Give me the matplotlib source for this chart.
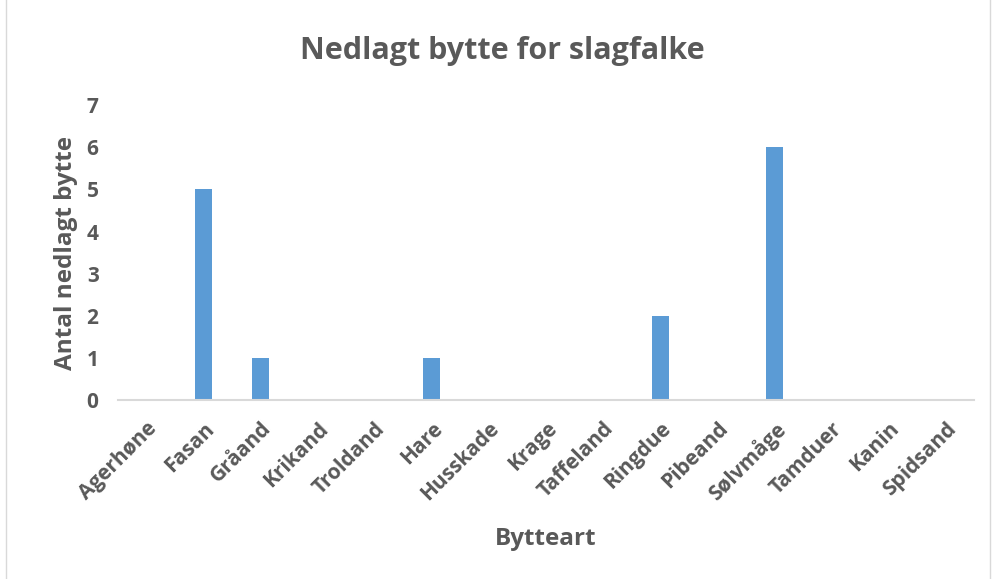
import numpy as np
import matplotlib.pyplot as plt
from matplotlib.patches import Rectangle

arter = ['Agerhøne', 'Fasan', 'Gråand', 'Krikand', 'Troldand', 'Hare', 'Husskade',
         'Krage', 'Taffeland', 'Ringdue', 'Pibeand', 'Sølvmåge', 'Tamduer', 'Kanin', 'Spidsand']
antal = [0, 5, 1, 0, 0, 1, 0, 0, 0, 2, 0, 6, 0, 0, 0]

plt.rcParams['font.family'] = ['Open Sans', 'DejaVu Sans']
tekst = '#595959'

fig = plt.figure(figsize=(9.94, 5.79), dpi=100)
ax = fig.add_axes([0.1187, 0.309, 0.8613, 0.5095])

x = np.arange(len(arter))
ax.bar(x, antal, width=0.3, color='#5b9bd5', zorder=2)

ax.set_xlim(-0.5, len(arter) - 0.5)
ax.set_ylim(0, 7)
ax.set_yticks(range(8))
ax.set_xticks(x)
ax.set_xticklabels(arter, rotation=45, ha='right', rotation_mode='anchor')

for s in ['top', 'right', 'left']:
    ax.spines[s].set_visible(False)
ax.spines['bottom'].set_color('#d9d9d9')
ax.spines['bottom'].set_linewidth(1.5)
ax.tick_params(length=0, labelsize=15, labelcolor=tekst, pad=13)
ax.tick_params(axis='y', pad=14)
for lbl in ax.get_xticklabels() + ax.get_yticklabels():
    lbl.set_fontweight('bold')

ax.set_ylabel('Antal nedlagt bytte', fontsize=17.5, fontweight='bold', color=tekst, labelpad=6)
ax.set_xlabel('Bytteart', fontsize=17.5, fontweight='bold', color=tekst, labelpad=16)
fig.text(0.5055, 0.912, 'Nedlagt bytte for slagfalke', ha='center', va='center',
         fontsize=22, fontweight='bold', color=tekst)

# ramme om diagrammet
fig.patches.append(Rectangle((0.006, -0.01), 0.99, 1.02, transform=fig.transFigure,
                             fill=False, edgecolor='#d9d9d9', linewidth=1))

fig.savefig('out.png', dpi=100)
